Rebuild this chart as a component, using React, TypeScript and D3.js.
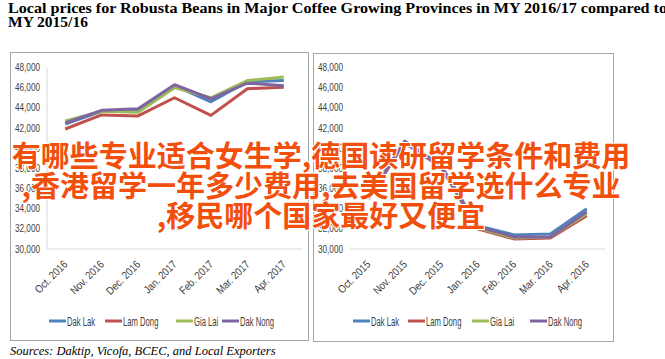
import React from 'react';
import * as d3 from 'd3';

const W = 665;
const H = 359;

const months1617 = ['Oct. 2016', 'Nov. 2016', 'Dec. 2016', 'Jan. 2017', 'Feb. 2017', 'Mar. 2017', 'Apr. 2017'];
const months1516 = ['Oct. 2015', 'Nov. 2015', 'Dec. 2015', 'Jan. 2016', 'Feb. 2016', 'Mar. 2016', 'Apr. 2016'];
const yTicks = [30000, 32000, 34000, 36000, 38000, 40000, 42000, 44000, 46000, 48000];
const provinces = ['Dak Lak', 'Lam Dong', 'Gia Lai', 'Dak Nong'];
const colors = ['#4f81bd', '#c0504d', '#9bbb59', '#8064a2'];

// MY 2016/17 (VND/kg)
const dakLak1617 = [42400, 43650, 43700, 46200, 44600, 46600, 46700];
const lamDong1617 = [41900, 43300, 43200, 45000, 43250, 45900, 46050];
const giaLai1617 = [42700, 43650, 43550, 46000, 45000, 46700, 47050];
const dakNong1617 = [42500, 43750, 43900, 46300, 44900, 46450, 46200];

// MY 2015/16
const dakLak1516 = [35200, 40700, 38300, 32300, 31400, 31500, 34000];
const lamDong1516 = [35000, 40500, 38100, 32000, 31000, 31100, 33300];
const giaLai1516 = [35100, 40600, 38200, 32100, 31100, 31200, 33500];
const dakNong1516 = [35000, 40600, 38200, 32200, 31200, 31200, 33700];

const overlay = [
  '有哪些专业适合女生学,德国读研留学条件和费用',
  ',香港留学一年多少费用,去美国留学选什么专业',
  ',移民哪个国家最好又便宜',
];

const axisFont = '"Liberation Sans", Arial, sans-serif';

const Panel = ({ left, top, width, height, plotLeft, months, series, legendX, showYLine }) => {
  const x = d3.scaleBand().domain(months).range([plotLeft, plotLeft + 255]);
  const y = d3.scaleLinear().domain([30000, 48000]).range([249, 67.5]);
  const cx = (m) => x(m) + x.bandwidth() / 2;
  const line = d3.line().x((d, i) => cx(months[i])).y((d) => y(d));

  return (
    <g>
      <rect x={left + 0.5} y={top + 0.5} width={width} height={height} fill="#fff" stroke="#a6a6a6" />
      <line x1={plotLeft} x2={plotLeft + 255} y1={y(30000)} y2={y(30000)} stroke="#d9d9d9" />
      {showYLine && <line x1={plotLeft} x2={plotLeft} y1={y(48000)} y2={y(30000)} stroke="#d9d9d9" />}
      <g fontFamily={axisFont} fill="#404040">
        {yTicks.map((t) => (
          <text key={t} transform={`translate(${plotLeft - 7},${y(t) + 3.5}) scale(0.82,1)`}
            textAnchor="end" fontSize={10}>
            {d3.format(',')(t)}
          </text>
        ))}
        {months.map((m) => (
          <text key={m} transform={`translate(${cx(m) + 3},265) rotate(-45) scale(0.86,1)`}
            textAnchor="end" fontSize={11}>
            {m}
          </text>
        ))}
      </g>
      {series.map((s, i) => (
        <path key={provinces[i]} d={line(s)} fill="none" stroke={colors[i]} strokeWidth={3}
          strokeLinejoin="round" />
      ))}
      {provinces.map((p, i) => (
        <g key={p} transform={`translate(${left + legendX[i]},321)`}>
          <line x1={0} x2={17} y1={0} y2={0} stroke={colors[i]} strokeWidth={3} />
          <text transform={`translate(18,4.5) scale(0.64,1)`} fontSize={12} fill="#404040"
            fontFamily={axisFont}>{p}</text>
        </g>
      ))}
    </g>
  );
};

export default function App() {
  return (
    <svg width={W} height={H} style={{ position: 'absolute', left: 0, top: 0, background: '#fff' }}>
      <rect width={W} height={H} fill="#fff" />
      <g fontFamily='"Liberation Serif", "Times New Roman", serif' fontWeight="bold" fontSize={15.5} fill="#000">
        <text x={8} y={13} textLength={659} lengthAdjust="spacingAndGlyphs">
          Local prices for Robusta Beans in Major Coffee Growing Provinces in MY 2016/17 compared to
        </text>
        <text x={8} y={27}>MY 2015/16</text>
      </g>
      <Panel left={10} top={52} width={298} height={288} plotLeft={47} months={months1617}
        series={[dakLak1617, lamDong1617, giaLai1617, dakNong1617]} legendX={[39, 95, 166, 212]} showYLine />
      <Panel left={313} top={53} width={300} height={288} plotLeft={350} months={months1516}
        series={[dakLak1516, lamDong1516, giaLai1516, dakNong1516]} legendX={[40, 95, 159, 217]} showYLine={false} />
      <text x={10} y={355} fontFamily='"Liberation Serif", "Times New Roman", serif' fontStyle="italic"
        fontSize={12.5} fill="#000">
        Sources: Daktip, Vicofa, BCEC, and Local Exporters
      </text>
      <g fontFamily='"Noto Sans CJK SC", sans-serif' fontWeight="bold" fontSize={29} fill="#f24e0c"
        textAnchor="middle" stroke="#fff" strokeWidth={2} paintOrder="stroke">
        {overlay.map((t, i) => (
          <text key={i} x={321} y={167 + i * 30}>{t}</text>
        ))}
      </g>
    </svg>
  );
}
